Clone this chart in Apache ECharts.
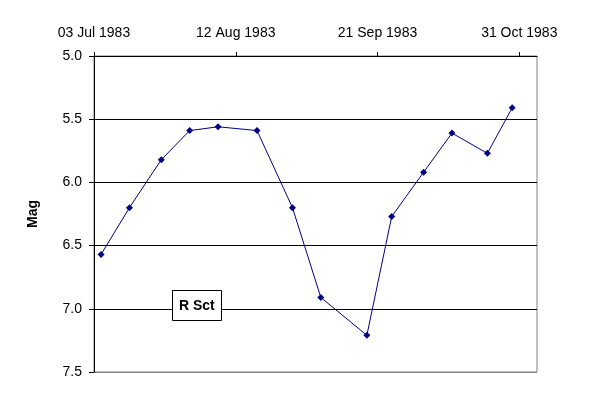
<!DOCTYPE html>
<html>
<head>
<meta charset="utf-8">
<script src="https://cdn.jsdelivr.net/npm/echarts@6/dist/echarts.min.js"></script>
<style>
  html, body { margin: 0; padding: 0; background: #fff; }
  #chart { width: 600px; height: 400px; }
</style>
</head>
<body>
<div id="chart"></div>
<script>
// observation dates and visual magnitudes of R Sct
let obsDates = ['1983-07-05', '1983-07-13', '1983-07-22', '1983-07-30', '1983-08-07',
                '1983-08-18', '1983-08-28', '1983-09-05', '1983-09-18', '1983-09-25',
                '1983-10-04', '1983-10-12', '1983-10-22', '1983-10-29'];
let mags = [6.57, 6.20, 5.82, 5.59, 5.56, 5.59, 6.20, 6.91, 7.21, 6.27, 5.92, 5.61, 5.77, 5.41];
let xTickLabels = ['03 Jul 1983', '12 Aug 1983', '21 Sep 1983', '31 Oct 1983'];

let startDay = Date.UTC(1983, 6, 3);
let dayMs = 86400000;

function dayOffset(s){
    let p = s.split('-');
    return (Date.UTC(+p[0], +p[1] - 1, +p[2]) - startDay) / dayMs;
}

const points = [];
for (const i in obsDates) {
    points.push([dayOffset(obsDates[i]), mags[i]]);
}

const font = '"Liberation Sans", Arial, sans-serif';
const dom = document.getElementById('chart');
const myChart = echarts.init(dom);
const option = {
    animation: false,
    title: {
        text: 'R Sct',
        left: 172,
        top: 290,
        padding: [8, 7, 7, 7],
        borderColor: '#000',
        borderWidth: 1,
        backgroundColor: '#fff',
        textStyle: { fontFamily: font, fontSize: 14, fontWeight: 'bold', color: '#000', lineHeight: 16 }
    },
    grid: {
        left: 94, top: 56, right: 63, bottom: 28,
        show: true,
        borderColor: '#808080',
        borderWidth: 1
    },
    xAxis: {
        type: 'value',
        position: 'top',
        min: 0,
        max: 125,
        interval: 40,
        axisLine: { lineStyle: { color: '#000', width: 1 } },
        axisTick: { length: 4, lineStyle: { color: '#000' } },
        splitLine: { show: false },
        axisLabel: {
            margin: 16,
            showMaxLabel: false,
            color: '#000',
            fontFamily: font,
            fontSize: 14,
            formatter: function (v) {
                return v % 40 === 0 ? (xTickLabels[v / 40] || '') : '';
            }
        }
    },
    yAxis: {
        type: 'value',
        inverse: true,
        min: 5,
        max: 7.5,
        interval: 0.5,
        name: 'Mag',
        nameLocation: 'middle',
        nameGap: 54,
        nameRotate: 90,
        nameTextStyle: { fontFamily: font, fontSize: 14, fontWeight: 'bold', color: '#000' },
        axisLine: { show: true, lineStyle: { color: '#000', width: 1 } },
        axisTick: { show: true, length: 5, lineStyle: { color: '#000' } },
        splitLine: {
            show: true,
            lineStyle: { color: ['#000', '#000', '#000', '#000', '#000', '#808080'], width: 1 }
        },
        axisLabel: {
            margin: 12,
            color: '#000',
            fontFamily: font,
            fontSize: 14,
            formatter: function (v) { return v.toFixed(1); }
        }
    },
    series: [{
        name: 'R Sct',
        type: 'line',
        data: points,
        symbol: 'diamond',
        symbolSize: 7,
        itemStyle: { color: '#000080' },
        lineStyle: { color: '#000080', width: 1 }
    }]
};
if (option && typeof option === "object") {
    myChart.setOption(option, true);
}
</script>
</body>
</html>
